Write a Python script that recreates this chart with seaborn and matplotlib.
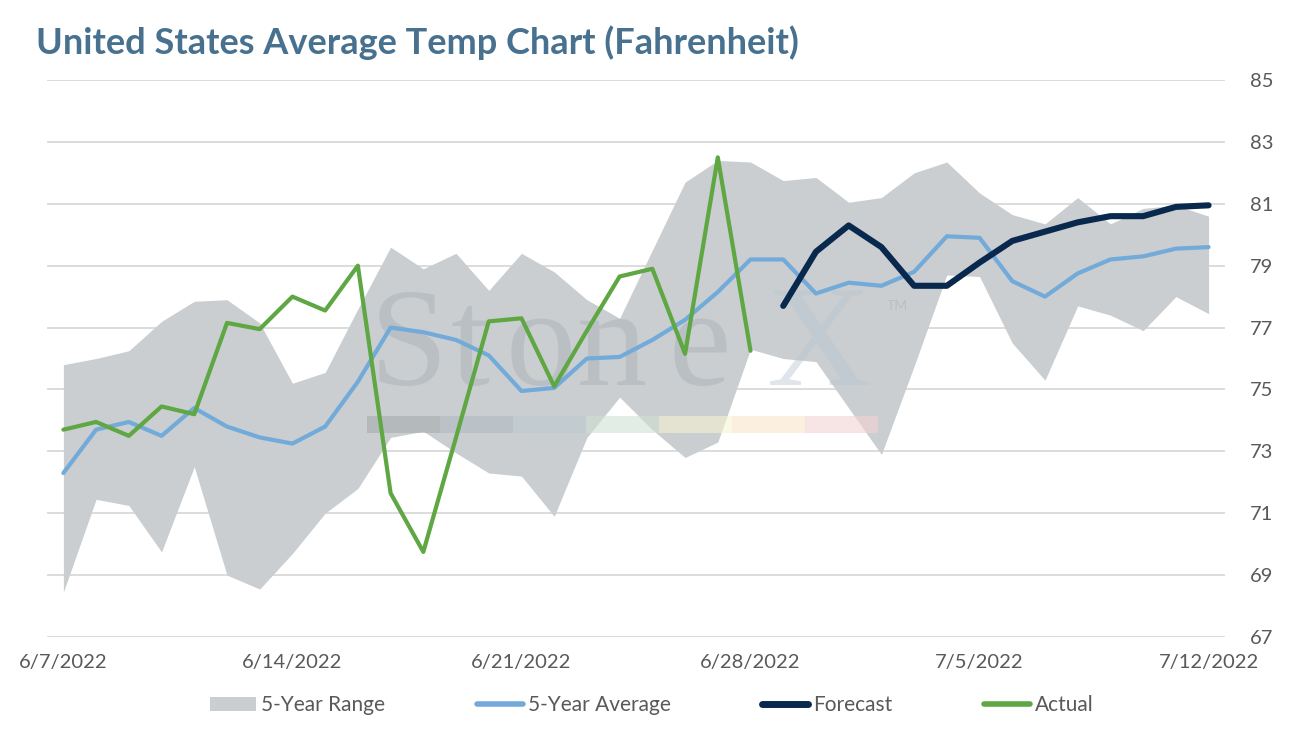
import numpy as np
import pandas as pd
import matplotlib
matplotlib.use("Agg")
import matplotlib.pyplot as plt
import seaborn as sns
from matplotlib.patches import Patch, Rectangle
from matplotlib.lines import Line2D

# ---------------- data ----------------
dates = pd.date_range("2022-06-07", periods=36, freq="D")

range_upper = [75.8, 76.0, 76.25, 77.2, 77.85, 77.9, 77.15, 75.2, 75.55, 77.6,
               79.6, 78.9, 79.4, 78.2, 79.4, 78.8, 77.9, 77.3, 79.5, 81.7,
               82.4, 82.35, 81.75, 81.85, 81.05, 81.2, 82.0, 82.35, 81.35, 80.65,
               80.35, 81.2, 80.35, 80.85, 80.95, 80.6]
range_lower = [68.45, 71.45, 71.25, 69.75, 72.5, 69.0, 68.55, 69.7, 71.0, 71.8,
               73.45, 73.65, 72.95, 72.3, 72.2, 70.9, 73.45, 74.75, 73.7, 72.8,
               73.3, 76.3, 76.0, 75.9, 74.4, 72.9, 75.75, 78.7, 78.65, 76.5,
               75.3, 77.7, 77.4, 76.9, 78.0, 77.45]
avg_5yr = [72.3, 73.7, 73.95, 73.5, 74.4, 73.8, 73.45, 73.25, 73.8, 75.25,
           77.0, 76.85, 76.6, 76.1, 74.95, 75.05, 76.0, 76.05, 76.6, 77.25,
           78.15, 79.2, 79.2, 78.1, 78.45, 78.35, 78.8, 79.95, 79.9, 78.5,
           78.0, 78.75, 79.2, 79.3, 79.55, 79.6]
actual = [73.7, 73.95, 73.5, 74.45, 74.2, 77.15, 76.95, 78.0, 77.55, 79.0,
          71.65, 69.75, 73.45, 77.2, 77.3, 75.1, 76.9, 78.65, 78.9, 76.15,
          82.5, 76.25]
forecast = [77.7, 79.45, 80.3, 79.6, 78.35, 78.35, 79.1, 79.8, 80.1, 80.4,
            80.6, 80.6, 80.9, 80.95]

y_ticks = [67, 69, 71, 73, 75, 77, 79, 81, 83, 85]
tick_dates = dates[::7]
x_tick_labels = [f"{d.month}/{d.day}/{d.year}" for d in tick_dates]

title = "United States Average Temp Chart (Fahrenheit)"
legend_labels = ["5-Year Range", "5-Year Average", "Forecast", "Actual"]

# ---------------- style ----------------
sns.set_theme(style="white")
plt.rcParams["font.family"] = ["Lato", "DejaVu Sans"]

C_RANGE = "#CACED0"
C_AVG = "#72AAD9"
C_FC = "#08294D"
C_ACT = "#5EA743"
C_TXT = "#595959"
C_GRID = "#D9D9D9"

fig = plt.figure(figsize=(12.99, 7.30), dpi=100)
ax = fig.add_axes([0.0362, 0.1274, 0.9068, 0.763])

df_avg = pd.DataFrame({"date": dates, "val": avg_5yr})
df_act = pd.DataFrame({"date": dates[:len(actual)], "val": actual})
df_fc = pd.DataFrame({"date": dates[len(dates) - len(forecast):], "val": forecast})

ax.fill_between(dates, range_lower, range_upper, color=C_RANGE, lw=0, zorder=1)

sns.lineplot(data=df_avg, x="date", y="val", ax=ax, color=C_AVG, lw=3.0, zorder=4)
sns.lineplot(data=df_fc, x="date", y="val", ax=ax, color=C_FC, lw=4.4, zorder=5,
             solid_capstyle="round")
sns.lineplot(data=df_act, x="date", y="val", ax=ax, color=C_ACT, lw=3.0, zorder=6)

# axes
half = pd.Timedelta(hours=12)
ax.set_xlim(dates[0] - half, dates[-1] + half)
ax.set_ylim(67, 85)
ax.set_yticks(y_ticks)
ax.yaxis.tick_right()
ax.set_xticks(tick_dates)
ax.set_xticklabels(x_tick_labels)
ax.tick_params(axis="both", length=0, labelsize=14.5, labelcolor=C_TXT)
ax.tick_params(axis="x", pad=12)
ax.tick_params(axis="y", pad=18)
ax.set_xlabel("")
ax.set_ylabel("")
ax.grid(axis="y", color=C_GRID, lw=1.3, zorder=0)
ax.grid(axis="x", visible=False)
ax.set_axisbelow(True)
for s in ax.spines.values():
    s.set_visible(False)

# watermark (logo), letters placed individually to mimic the wide serif logo
logo_letters = ["S", "t", "o", "n", "e"]
logo_x = [0.2742, 0.3430, 0.3895, 0.4500, 0.5280]
for ch, xx in zip(logo_letters, logo_x):
    ax.text(xx, 0.452, ch, transform=ax.transAxes, fontsize=101,
            family="Liberation Serif", color="#9AA3AA", alpha=0.35, zorder=3,
            ha="left", va="baseline")
ax.text(0.6112, 0.452, "X", transform=ax.transAxes, fontsize=104,
        family="Liberation Serif", color="#B8C6D4", alpha=0.45, zorder=3,
        ha="left", va="baseline")
ax.text(0.713, 0.587, "TM", transform=ax.transAxes, fontsize=10,
        color="#B0B6BA", alpha=0.6, zorder=3)
bar_cols = ["#A6ACB0", "#B1BBC1", "#BDC9CF", "#CDE2D5", "#F6F2D4", "#F9E5CA", "#F3D2D5"]
x0 = (367 - 47) / 1178
seg = (878 - 367) / 1178 / len(bar_cols)
for i, c in enumerate(bar_cols):
    ax.add_patch(Rectangle((x0 + i * seg, 0.366), seg, 0.0305, transform=ax.transAxes,
                           color=c, alpha=0.6, lw=0, zorder=3))

# title
fig.text(0.028, 0.942, title, fontsize=26, fontweight="bold", color="#47718F",
         ha="left", va="center")

# legend
handles = [Patch(facecolor=C_RANGE, edgecolor="none"),
           Line2D([], [], color=C_AVG, lw=4, solid_capstyle="round"),
           Line2D([], [], color=C_FC, lw=5, solid_capstyle="round"),
           Line2D([], [], color=C_ACT, lw=4, solid_capstyle="round")]
leg = fig.legend(handles, legend_labels, loc="center", bbox_to_anchor=(0.502, 0.034),
                 ncol=4, frameon=False, fontsize=15, handlelength=2.2,
                 handletextpad=0.25, columnspacing=4.4)
for t in leg.get_texts():
    t.set_color(C_TXT)

fig.savefig("out.png", dpi=100)
